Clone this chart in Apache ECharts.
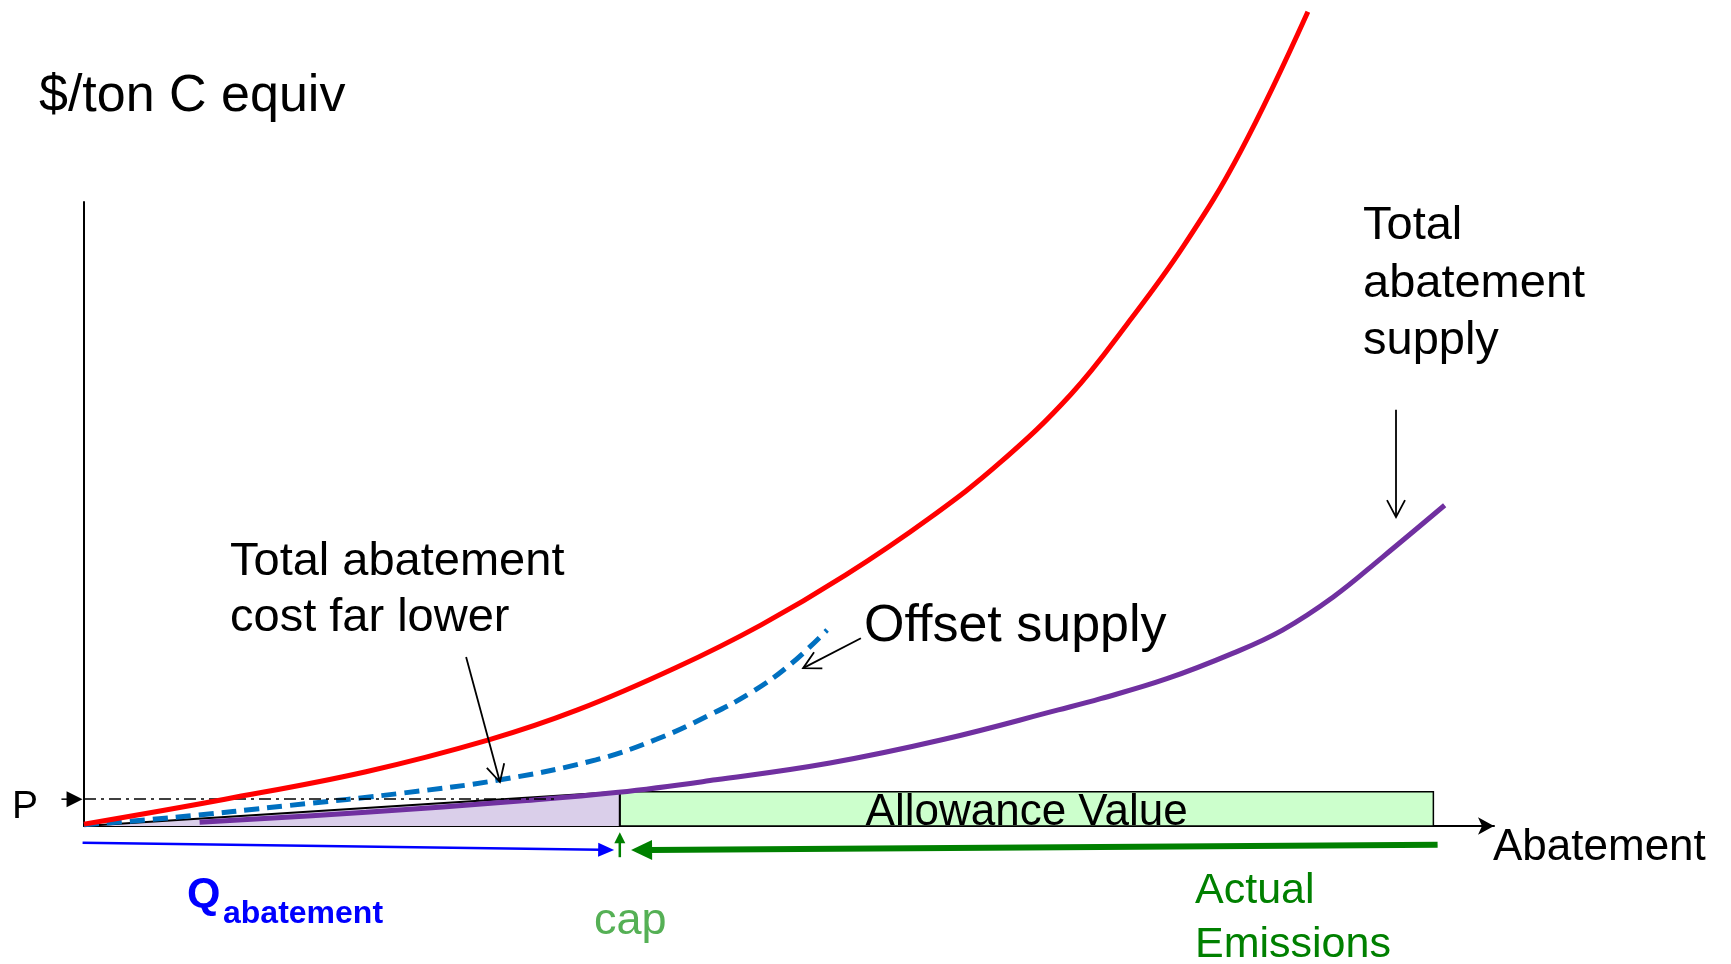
<!DOCTYPE html>
<html>
<head>
<meta charset="utf-8">
<title>Offsets and allowance value</title>
<script src="https://cdn.jsdelivr.net/npm/echarts@6/dist/echarts.min.js"></script>
<style>
  html, body { margin: 0; padding: 0; background: #fff; }
  #chart { width: 1731px; height: 964px; }
</style>
</head>
<body>
<div id="chart"></div>
<script>
// ========== data (x: abatement, y: $/ton C equiv) ==========
const costCurve = [
  [0, 0.3], [10, 4.3], [20, 8.7], [28.7, 13.8], [35, 18.6], [42, 25.4],
  [48, 32.2], [54, 40.2], [60, 49.4], [65, 58.3], [70, 69.2], [74, 80.5],
  [78, 93.0], [82, 108.0], [86.8, 130.5],
];
const offsetSupply = [
  [0, 0.2], [6.5, 1.4], [14.6, 3.3], [22.7, 5.3], [29.5, 7.4], [36.3, 10.6],
  [40.6, 13.9], [44.2, 17.6], [47.4, 21.5], [50.1, 25.9], [52.7, 31.4],
];
const totalSupply = [
  [8.2, 0.6], [20.0, 2.2], [30.9, 4.0], [37.9, 5.4], [44.8, 7.4], [52.9, 10.1],
  [61.0, 13.9], [69.1, 18.6], [72.1, 20.4], [76.8, 23.6], [81.5, 27.7],
  [85.0, 31.4], [88.6, 36.7], [92.1, 43.1], [96.5, 51.4],
];
const capQ = 38;            // cap = Q abatement
const priceP = 4.3;         // P
const allowanceTop = 5.5;   // top of shaded cost / allowance box
const actualEmissions = 95.7;

// ========== annotations ==========
const FONT = "'Liberation Sans', Arial, sans-serif";

const arrowStyles = [
  { color: '#000', width: 1.8, len: 17, half: 9, open: true },     // 0 callout
  { color: '#000', width: 1.5, len: 16, half: 8, open: false },    // 1 P
  { color: '#0000ff', width: 2.5, len: 16, half: 7, open: false }, // 2 Q
  { color: '#008000', width: 2.5, len: 11, half: 5.5, open: false }, // 3 cap
  { color: '#008000', width: 6, len: 21, half: 10, open: false },  // 4 emissions
];

const arrows = [
  [27.1, 27.1, 29.5, 7.05, 0],
  [55.1, 30.1, 51.0, 25.3, 0],
  [93.05, 66.7, 93.05, 49.5, 0],
  [-1.6, priceP, -0.1, priceP, 1],
  [-0.1, -2.7, capQ - 0.4, -3.85, 2],
  [capQ, -5.0, capQ, -1.0, 3],
  [actualEmissions + 0.3, -3.0, capQ + 0.8, -3.85, 4],
];

function renderArrow(params, api) {
  const p1 = api.coord([api.value(0), api.value(1)]);
  const p2 = api.coord([api.value(2), api.value(3)]);
  const st = arrowStyles[api.value(4)];
  const dx = p2[0] - p1[0];
  const dy = p2[1] - p1[1];
  const d = Math.hypot(dx, dy);
  const ux = dx / d;
  const uy = dy / d;
  const bx = p2[0] - ux * st.len;
  const by = p2[1] - uy * st.len;
  const w1 = [bx + uy * st.half, by - ux * st.half];
  const w2 = [bx - uy * st.half, by + ux * st.half];
  const end = st.open ? p2 : [bx + ux * 2, by + uy * 2];
  const children = [
    {
      type: 'line',
      shape: { x1: p1[0], y1: p1[1], x2: end[0], y2: end[1] },
      style: { stroke: st.color, lineWidth: st.width, fill: 'none' },
    },
  ];
  if (st.open) {
    children.push({
      type: 'polyline',
      shape: { points: [w1, p2, w2] },
      style: { stroke: st.color, lineWidth: st.width, fill: 'none' },
    });
  } else {
    children.push({
      type: 'polygon',
      shape: { points: [w1, p2, w2] },
      style: { fill: st.color, stroke: 'none' },
    });
  }
  return { type: 'group', children };
}

function textEl(text, x, y, size, opts = {}) {
  return {
    type: 'text',
    x,
    y,
    silent: true,
    z: 100,
    style: {
      text,
      font: `${opts.bold ? 'bold ' : ''}${size}px ${FONT}`,
      fill: opts.color || '#000',
      align: 'left',
      verticalAlign: 'middle',
      textAlign: 'left',
      textVerticalAlign: 'middle',
    },
  };
}

// ========== chart ==========
const chart = echarts.init(document.getElementById('chart'));

chart.setOption({
  animation: false,
  backgroundColor: '#fff',
  grid: { left: 84, right: 237, top: 202, bottom: 138, outerBoundsMode: 'none' },
  xAxis: {
    type: 'value',
    min: 0,
    max: 100,
    axisLine: {
      show: true,
      onZero: false,
      symbol: ['none', 'arrow'],
      symbolSize: [13, 16],
      lineStyle: { color: '#000', width: 2 },
    },
    axisTick: { show: false },
    axisLabel: { show: false },
    splitLine: { show: false },
  },
  yAxis: {
    type: 'value',
    min: 0,
    max: 100,
    axisLine: { show: true, lineStyle: { color: '#000', width: 2 } },
    axisTick: { show: false },
    axisLabel: { show: false },
    splitLine: { show: false },
  },
  series: [
    {
      name: 'Total abatement cost',
      type: 'line',
      data: [[0, 0], [capQ, allowanceTop], [capQ, 0]],
      symbol: 'none',
      silent: true,
      z: 2,
      lineStyle: { color: '#000', width: 2 },
      areaStyle: { color: '#dacfea', opacity: 1 },
      markArea: {
        silent: true,
        itemStyle: { color: '#ccffcc', borderColor: '#000', borderWidth: 1.5 },
        label: {
          show: true,
          position: 'inside',
          offset: [0, 4],
          color: '#000',
          fontSize: 44,
          fontFamily: FONT,
        },
        data: [[
          { name: 'Allowance Value', coord: [capQ, 0] },
          { coord: [actualEmissions, allowanceTop] },
        ]],
      },
    },
    {
      name: 'Total abatement supply',
      type: 'line',
      data: totalSupply,
      smooth: 0.4,
      symbol: 'none',
      silent: true,
      z: 3,
      lineStyle: { color: '#7030a0', width: 5 },
      markLine: {
        silent: true,
        symbol: ['none', 'none'],
        label: { show: false },
        lineStyle: { color: '#000', width: 1.5, type: [12, 5, 3, 5] },
        data: [[{ coord: [0, priceP] }, { coord: [33.5, priceP] }]],
      },
    },
    {
      name: 'Offset supply',
      type: 'line',
      data: offsetSupply,
      smooth: 0.4,
      symbol: 'none',
      silent: true,
      z: 4,
      lineStyle: { color: '#0070c0', width: 5, type: [15, 8] },
    },
    {
      name: 'Abatement cost',
      type: 'line',
      data: costCurve,
      smooth: 0.4,
      symbol: 'none',
      silent: true,
      clip: false,
      z: 5,
      lineStyle: { color: '#ff0000', width: 5 },
    },
    {
      name: 'arrows',
      type: 'custom',
      renderItem: renderArrow,
      data: arrows,
      encode: { x: [0, 2], y: [1, 3] },
      clip: false,
      silent: true,
      z: 10,
    },
  ],
  graphic: [
    textEl('$/ton C equiv', 39, 97, 52),
    textEl('Total abatement', 230, 562, 47),
    textEl('cost far lower', 230, 618, 47),
    textEl('Offset supply', 864, 627, 52),
    textEl('Total', 1363, 226, 47),
    textEl('abatement', 1363, 284, 47),
    textEl('supply', 1363, 341, 47),
    textEl('P', 12, 807, 39),
    textEl('Abatement', 1493, 848, 44),
    textEl('Q', 187, 895, 43, { bold: true, color: '#0000ff' }),
    textEl('abatement', 223, 914, 32, { bold: true, color: '#0000ff' }),
    textEl('cap', 594, 922, 45, { color: '#55b055' }),
    textEl('Actual', 1195, 891, 43, { color: '#008000' }),
    textEl('Emissions', 1195, 945, 43, { color: '#008000' }),
  ],
});

window.addEventListener('resize', () => chart.resize());
</script>
</body>
</html>
